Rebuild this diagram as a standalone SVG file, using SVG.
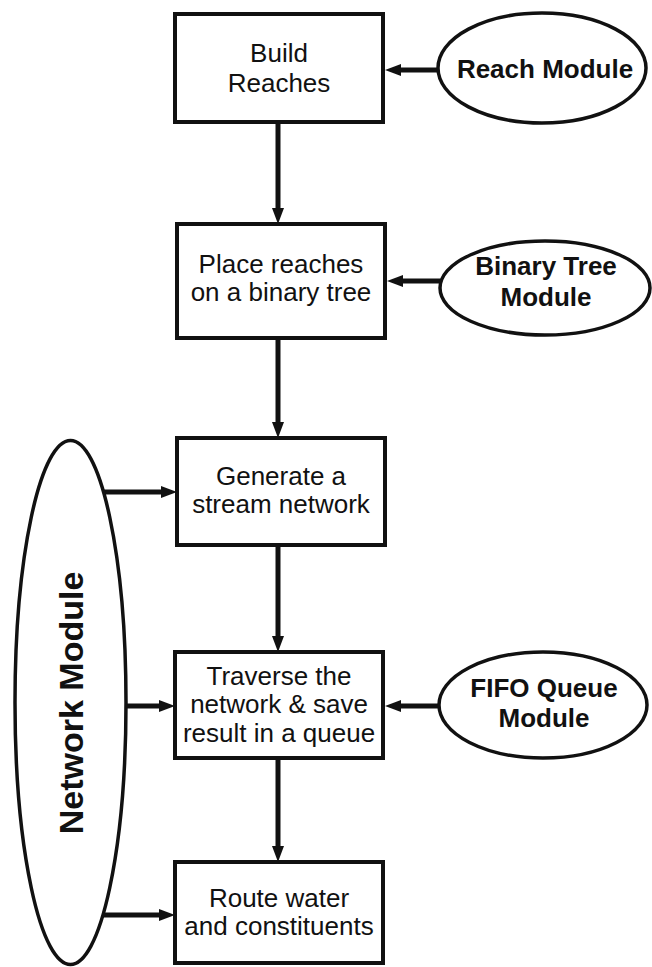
<svg xmlns="http://www.w3.org/2000/svg" width="652" height="967" viewBox="0 0 652 967">
  <style>
    .box { fill: #fff; stroke: #111; stroke-width: 4; }
    .mod { fill: #fff; stroke: #111; stroke-width: 3.5; }
    .lbl { font-family: "Liberation Sans", Arial, sans-serif; font-size: 26px; fill: #111; text-anchor: middle; }
    .bold { font-weight: bold; }
    .edge { stroke: #111; stroke-width: 5; fill: none; marker-end: url(#head); }
  </style>
  <defs>
    <marker id="head" markerUnits="userSpaceOnUse" markerWidth="16" markerHeight="12" refX="6" refY="6" orient="auto" overflow="visible">
      <path d="M0,0 L16,6 L0,12 Z" fill="#111"/>
    </marker>
  </defs>
  <rect width="652" height="967" fill="#fff"/>

  <!-- connectors -->
  <g id="connectors">
    <line class="edge" x1="278" y1="123" x2="278" y2="214"/>
    <line class="edge" x1="278" y1="338" x2="278" y2="428"/>
    <line class="edge" x1="278" y1="545" x2="278" y2="642"/>
    <line class="edge" x1="278" y1="758" x2="278" y2="852"/>
    <line class="edge" x1="438" y1="70" x2="395" y2="70"/>
    <line class="edge" x1="440" y1="281" x2="397" y2="281"/>
    <line class="edge" x1="439" y1="706" x2="395" y2="706"/>
    <line class="edge" x1="103" y1="492" x2="167" y2="492"/>
    <line class="edge" x1="126" y1="706" x2="165" y2="706"/>
    <line class="edge" x1="103" y1="915" x2="165" y2="915"/>
  </g>

  <!-- process steps -->
  <g id="build-reaches">
    <rect class="box" x="175" y="14" width="208" height="108"/>
    <text class="lbl" x="279" y="62">Build</text>
    <text class="lbl" x="279" y="92">Reaches</text>
  </g>
  <g id="place-reaches">
    <rect class="box" x="177" y="224" width="208" height="114"/>
    <text class="lbl" x="281" y="273">Place reaches</text>
    <text class="lbl" x="281" y="301">on a binary tree</text>
  </g>
  <g id="generate-network">
    <rect class="box" x="177" y="438" width="208" height="107"/>
    <text class="lbl" x="281" y="485">Generate a</text>
    <text class="lbl" x="281" y="513">stream network</text>
  </g>
  <g id="traverse-network">
    <rect class="box" x="175" y="652" width="208" height="106"/>
    <text class="lbl" x="279" y="685">Traverse the</text>
    <text class="lbl" x="279" y="713">network &amp; save</text>
    <text class="lbl" x="279" y="742">result in a queue</text>
  </g>
  <g id="route-water">
    <rect class="box" x="175" y="862" width="208" height="101"/>
    <text class="lbl" x="279" y="907">Route water</text>
    <text class="lbl" x="279" y="935">and constituents</text>
  </g>

  <!-- modules -->
  <g id="reach-module">
    <ellipse class="mod" cx="542" cy="68" rx="104" ry="55"/>
    <text class="lbl bold" x="545" y="78">Reach Module</text>
  </g>
  <g id="binary-tree-module">
    <ellipse class="mod" cx="545" cy="288" rx="105" ry="47"/>
    <text class="lbl bold" x="546" y="275">Binary Tree</text>
    <text class="lbl bold" x="546" y="306">Module</text>
  </g>
  <g id="fifo-queue-module">
    <ellipse class="mod" cx="543" cy="705" rx="104" ry="53"/>
    <text class="lbl bold" x="544" y="697">FIFO Queue</text>
    <text class="lbl bold" x="544" y="727">Module</text>
  </g>
  <g id="network-module">
    <ellipse class="mod" cx="70.5" cy="702.5" rx="55.5" ry="262"/>
    <text class="lbl bold" x="0" y="0" style="font-size:34px" transform="translate(83,703) rotate(-90)">Network Module</text>
  </g>
</svg>
